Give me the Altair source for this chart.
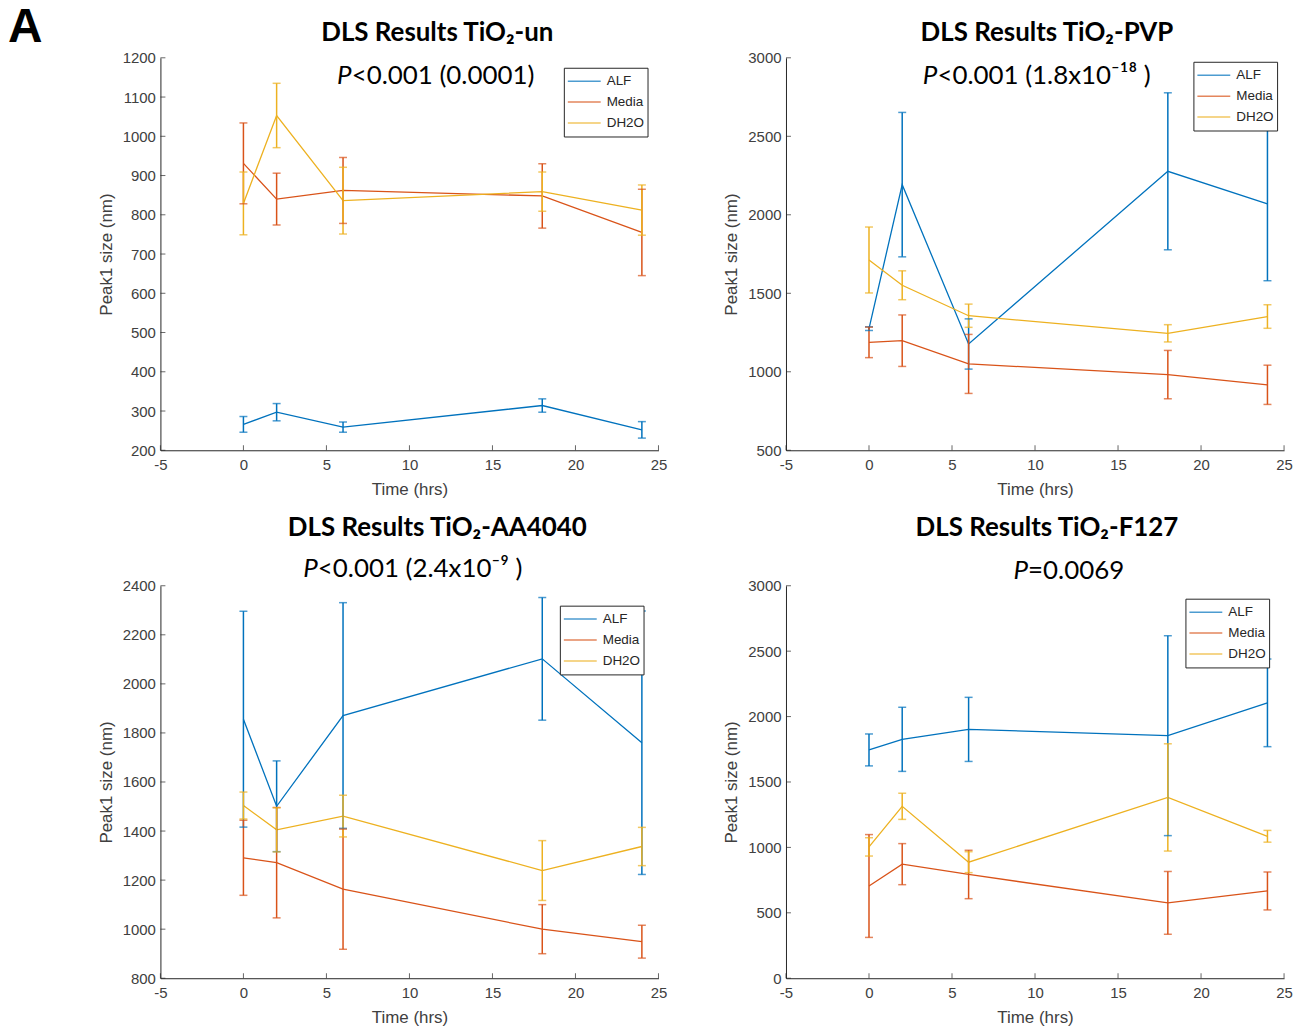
import altair as alt
import pandas as pd

# ---------------- data ----------------
times = [0, 2, 6, 18, 24]
series_names = ["ALF", "Media", "DH2O"]
series_colors = ["#0072BD", "#D95319", "#EDB120"]

x_ticks = [-5, 0, 5, 10, 15, 20, 25]

# TiO2-un
un_alf = [266, 297, 259, 314, 252]
un_alf_err = [20, 22, 13, 17, 21]
un_media = [931, 840, 862, 848, 755]
un_media_err = [103, 66, 84, 82, 110]
un_dh2o = [829, 1053, 836, 859, 812]
un_dh2o_err = [80, 82, 85, 50, 64]
un_y_ticks = [200, 300, 400, 500, 600, 700, 800, 900, 1000, 1100, 1200]

# TiO2-PVP
pvp_alf = [1275, 2192, 1177, 2277, 2070]
pvp_alf_err = [12, 460, 160, 500, 490]
pvp_media = [1187, 1198, 1050, 982, 917]
pvp_media_err = [97, 164, 188, 154, 125]
pvp_dh2o = [1712, 1551, 1357, 1245, 1352]
pvp_dh2o_err = [210, 92, 74, 55, 75]
pvp_y_ticks = [500, 1000, 1500, 2000, 2500, 3000]

# TiO2-AA4040
aa_alf = [1856, 1501, 1871, 2102, 1760]
aa_alf_err = [440, 185, 460, 250, 537]
aa_media = [1291, 1271, 1163, 1000, 949]
aa_media_err = [153, 225, 245, 100, 67]
aa_dh2o = [1504, 1405, 1461, 1239, 1337]
aa_dh2o_err = [55, 90, 85, 122, 78]
aa_y_ticks = [800, 1000, 1200, 1400, 1600, 1800, 2000, 2200, 2400]

# TiO2-F127
f_alf = [1745, 1826, 1902, 1854, 2105]
f_alf_err = [122, 245, 245, 764, 335]
f_media = [705, 872, 793, 576, 667]
f_media_err = [393, 157, 185, 240, 145]
f_dh2o = [1004, 1314, 887, 1382, 1085]
f_dh2o_err = [70, 100, 80, 410, 45]
f_y_ticks = [0, 500, 1000, 1500, 2000, 2500, 3000]

titles = ["DLS Results TiO₂-un", "DLS Results TiO₂-PVP",
          "DLS Results TiO₂-AA4040", "DLS Results TiO₂-F127"]
p_rests = ["<0.001 (0.0001)", "<0.001 (1.8x10⁻¹⁸ )",
           "<0.001 (2.4x10⁻⁹ )", "=0.0069"]
panel_letter = ["A"]

# ---------------- styling ----------------
W, H = 500, 394
AXF = "Liberation Sans"
TXF = "Lato"
AXC = "#262626"
XT = "Time (hrs)"
YT = "Peak1 size (nm)"
LBL = "'' + datum.value"


def panel(vals, errs, ydom, yticks, title, p_rest, tx, ty, px, py, lx, ly,
          letter=None):
    rows = []
    for s, v, e in zip(series_names, vals, errs):
        for t, m, d in zip(times, v, e):
            rows.append({"t": t, "series": s, "mean": m,
                         "lo": m - d, "hi": m + d})
    df = pd.DataFrame(rows)

    xs = alt.Scale(domain=[-5, 25], nice=False, zero=False)
    ys = alt.Scale(domain=ydom, nice=False, zero=False)
    xax = alt.Axis(values=x_ticks, labelFlush=False, labelOverlap=False,
                   labelExpr=LBL)
    yax = alt.Axis(values=yticks, labelFlush=False, labelOverlap=False,
                   labelExpr=LBL)
    color = alt.Color(
        "series:N",
        scale=alt.Scale(domain=series_names, range=series_colors),
        legend=alt.Legend(
            title=None, orient="none", legendX=lx, legendY=ly,
            symbolType="stroke", symbolSize=1089, symbolStrokeWidth=1.5,
            labelFont=AXF, labelFontSize=13.5, labelColor=AXC,
            labelOffset=5, strokeColor=AXC, fillColor="white",
            padding=3, rowPadding=0, clipHeight=21,
        ),
    )
    base = alt.Chart(df)
    xenc = alt.X("t:Q", scale=xs, axis=xax, title=XT)

    lines = base.mark_line(strokeWidth=1.3).encode(
        x=xenc,
        y=alt.Y("mean:Q", scale=ys, axis=yax, title=YT),
        color=color, order="t:Q")
    bars = base.mark_rule(strokeWidth=1.5).encode(
        x=xenc,
        y=alt.Y("lo:Q", scale=ys, axis=yax, title=YT),
        y2="hi:Q", color=color)
    caps = base.transform_fold(["lo", "hi"], as_=["end", "yv"]).mark_tick(
        orient="horizontal", size=8, thickness=1.5).encode(
        x=xenc,
        y=alt.Y("yv:Q", scale=ys, axis=yax, title=YT),
        color=color)

    ytk = alt.Chart(pd.DataFrame({"v": yticks})).mark_tick(
        orient="horizontal", size=5, thickness=1, color=AXC).encode(
        y=alt.Y("v:Q", scale=ys, axis=yax, title=YT), x=alt.value(2.5))
    xtk = alt.Chart(pd.DataFrame({"v": x_ticks})).mark_tick(
        orient="vertical", size=5, thickness=1, color=AXC).encode(
        x=alt.X("v:Q", scale=xs, axis=xax, title=XT), y=alt.value(H - 2.5))

    ttl = alt.Chart(pd.DataFrame({"s": [title]})).mark_text(
        font=TXF, fontSize=26, fontWeight="bold", color="black",
        align="center", baseline="alphabetic").encode(
        text="s:N", x=alt.value(tx), y=alt.value(ty))
    pp = alt.Chart(pd.DataFrame({"s": ["P"]})).mark_text(
        font=TXF, fontSize=26, fontStyle="italic", color="black",
        align="right", baseline="alphabetic").encode(
        text="s:N", x=alt.value(px), y=alt.value(py))
    pr = alt.Chart(pd.DataFrame({"s": [p_rest]})).mark_text(
        font=TXF, fontSize=26, color="black",
        align="left", baseline="alphabetic").encode(
        text="s:N", x=alt.value(px), y=alt.value(py))

    layers = [lines, bars, caps, ytk, xtk, ttl, pp, pr]
    if letter is not None:
        lt = alt.Chart(pd.DataFrame({"s": [letter]})).mark_text(
            font=AXF, fontSize=48, fontWeight="bold", color="black",
            align="left", baseline="alphabetic").encode(
            text="s:N", x=alt.value(-153), y=alt.value(-16))
        layers.append(lt)
    return alt.layer(*layers).properties(width=W, height=H)


p1 = panel([un_alf, un_media, un_dh2o], [un_alf_err, un_media_err, un_dh2o_err],
           [200, 1200], un_y_ticks, titles[0], p_rests[0],
           278, -17, 192, 26, 405, 10, letter=panel_letter[0])
p2 = panel([pvp_alf, pvp_media, pvp_dh2o], [pvp_alf_err, pvp_media_err, pvp_dh2o_err],
           [500, 3000], pvp_y_ticks, titles[1], p_rests[1],
           262, -17, 152, 26, 409, 4)
p3 = panel([aa_alf, aa_media, aa_dh2o], [aa_alf_err, aa_media_err, aa_dh2o_err],
           [800, 2400], aa_y_ticks, titles[2], p_rests[2],
           278, -50, 158, -9, 401, 20)
p4 = panel([f_alf, f_media, f_dh2o], [f_alf_err, f_media_err, f_dh2o_err],
           [0, 3000], f_y_ticks, titles[3], p_rests[3],
           262, -50, 243, -7, 401, 13)

chart = alt.concat(
    p1, p2, p3, p4, columns=2,
    spacing={"row": 136, "column": 128},
    bounds="flush",
).resolve_scale(
    x="independent", y="independent", color="independent"
).properties(
    padding={"left": 0, "top": -6, "right": 5, "bottom": 5},
    background="white",
).configure_view(stroke=None).configure_axis(
    grid=False, ticks=False, domainColor=AXC, domainWidth=1,
    labelFont=AXF, labelFontSize=15, labelColor="#404040",
    titleFont=AXF, titleFontSize=17, titleFontWeight="normal",
    titleColor="#404040",
).configure_axisX(labelPadding=7, titlePadding=9).configure_axisY(
    labelPadding=5, titlePadding=7)

chart.save("out.html", embed_options={"renderer": "svg", "actions": False})
